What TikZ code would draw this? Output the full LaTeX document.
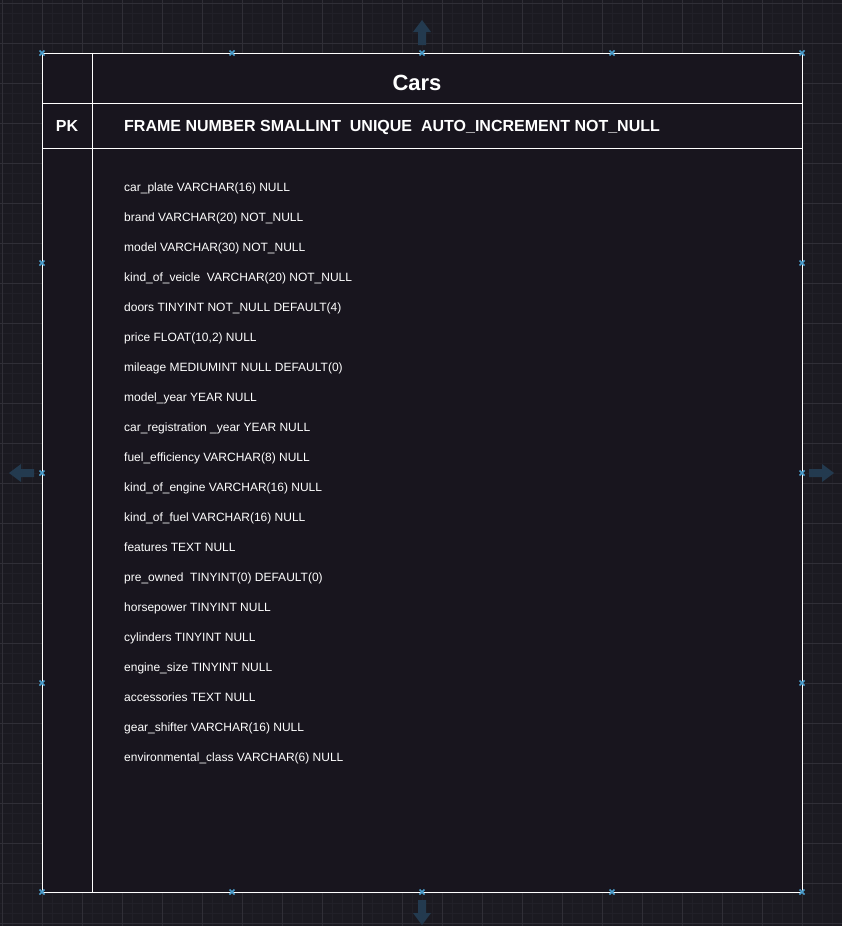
\documentclass[tikz,border=0pt]{standalone}
\usepackage{fontspec}
\setmainfont{Liberation Sans}
\definecolor{bgc}{HTML}{1B1A21}
\definecolor{gridminor}{HTML}{212028}
\definecolor{gridmajor}{HTML}{302F37}
\definecolor{tablefill}{HTML}{18151E}
\definecolor{handle}{HTML}{4A9CCB}
\definecolor{hoverarrow}{HTML}{233A4F}
\tikzset{
  tableline/.style={draw=white, line width=1pt},
  fieldtext/.style={anchor=base west, inner sep=0pt, text=white, font=\fontsize{12}{14}\selectfont},
  headtext/.style={inner sep=0pt, text=white, font=\bfseries\fontsize{16}{19}\selectfont},
  titletext/.style={anchor=base, inner sep=0pt, text=white, font=\bfseries\fontsize{22}{26}\selectfont},
  handlemark/.style={draw=handle, line width=1.6pt},
  hoverfill/.style={fill=hoverarrow, draw=none},
}
\begin{document}
\begin{tikzpicture}[x=1pt,y=-1pt]
\useasboundingbox (0,0) rectangle (842,926);
\fill[bgc] (0,0) rectangle (842,926);
% grid
\foreach \gx in {2,12,...,842} {\draw[gridminor, line width=0.6pt] (\gx,0) -- (\gx,926);}
\foreach \gy in {3,13,...,926} {\draw[gridminor, line width=0.6pt] (0,\gy) -- (842,\gy);}
\foreach \gx in {2,42,...,842} {\draw[gridmajor, line width=0.8pt] (\gx,0) -- (\gx,926);}
\foreach \gy in {3,43,...,926} {\draw[gridmajor, line width=0.8pt] (0,\gy) -- (842,\gy);}
% hover arrows
\fill[hoverfill] (418,45) -- (418,32) -- (413,32) -- (422,20) -- (431,32) -- (426,32) -- (426,45) -- cycle;
\fill[hoverfill] (418,900) -- (418,913) -- (413,913) -- (422,925) -- (431,913) -- (426,913) -- (426,900) -- cycle;
\fill[hoverfill] (34,469) -- (21,469) -- (21,464) -- (9,473) -- (21,482) -- (21,477) -- (34,477) -- cycle;
\fill[hoverfill] (809,469) -- (822,469) -- (822,464) -- (834,473) -- (822,482) -- (822,477) -- (809,477) -- cycle;
% table
\coordinate (tl) at (42,53);
\coordinate (br) at (802,892);
\fill[tablefill] (tl) rectangle (br);
\draw[tableline] (tl) rectangle (br);
\draw[tableline] (92,53) -- (92,892);
\draw[tableline] (42,103) -- (802,103);
\draw[tableline] (42,148) -- (802,148);
\node[titletext] (title) at (417,90) {Cars};
\node[headtext, anchor=base] (pk) at (67,131) {PK};
\node[headtext, anchor=base west] (frame) at (124,131) {FRAME NUMBER SMALLINT\ \ UNIQUE\ \ AUTO\_INCREMENT NOT\_NULL};
\foreach \i/\t in {0/{car\_plate VARCHAR(16) NULL},
  1/{brand VARCHAR(20) NOT\_NULL},
  2/{model VARCHAR(30) NOT\_NULL},
  3/{kind\_of\_veicle\ \ VARCHAR(20) NOT\_NULL},
  4/{doors TINYINT NOT\_NULL DEFAULT(4)},
  5/{price FLOAT(10,2) NULL},
  6/{mileage MEDIUMINT NULL DEFAULT(0)},
  7/{model\_year YEAR NULL},
  8/{car\_registration \_year YEAR NULL},
  9/{fuel\_efficiency VARCHAR(8) NULL},
  10/{kind\_of\_engine VARCHAR(16) NULL},
  11/{kind\_of\_fuel VARCHAR(16) NULL},
  12/{features TEXT NULL},
  13/{pre\_owned\ \ TINYINT(0) DEFAULT(0)},
  14/{horsepower TINYINT NULL},
  15/{cylinders TINYINT NULL},
  16/{engine\_size TINYINT NULL},
  17/{accessories TEXT NULL},
  18/{gear\_shifter VARCHAR(16) NULL},
  19/{environmental\_class VARCHAR(6) NULL}} {
  \node[fieldtext] (field\i) at (124,{191.3+30*\i}) {\t};
}
% selection handles
\foreach \hx/\hy in {42/53,232/53,422/53,612/53,802/53,
  42/892,232/892,422/892,612/892,802/892,
  42/263,42/473,42/683,802/263,802/473,802/683} {
  \draw[handlemark] (\hx-2.5,\hy-2.5) -- (\hx+2.5,\hy+2.5) (\hx-2.5,\hy+2.5) -- (\hx+2.5,\hy-2.5);
}
\end{tikzpicture}
\end{document}
